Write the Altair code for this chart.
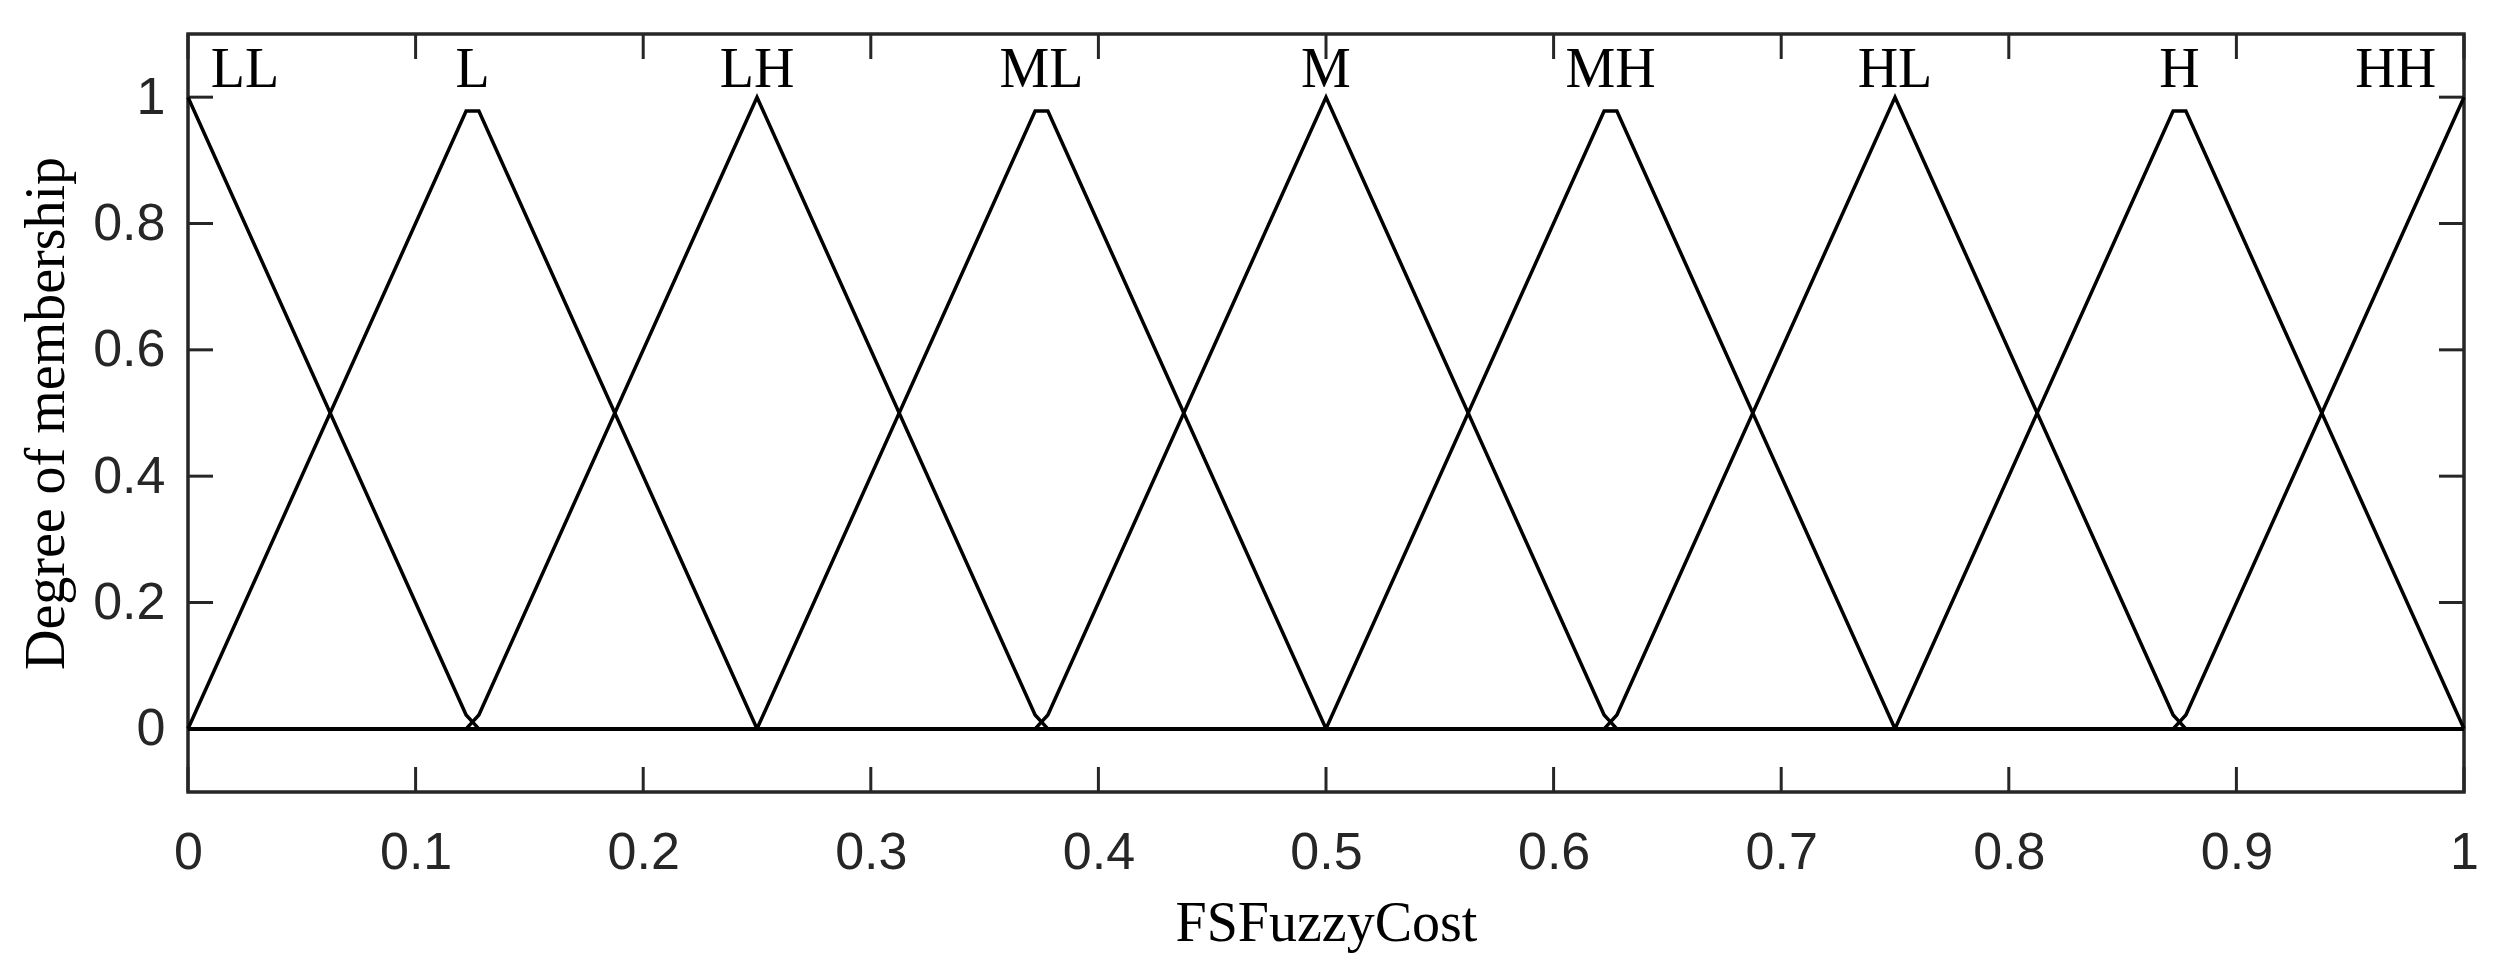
import altair as alt
import pandas as pd

# Breakpoints of the sampled membership functions (x) and each MF's value there
x_pts = [0, 0.1222, 0.1278, 0.25, 0.3722, 0.3778, 0.5, 0.6222, 0.6278, 0.75, 0.8722, 0.8778, 1]
LL = [1, 0.022, 0, 0, 0, 0, 0, 0, 0, 0, 0, 0, 0]
L  = [0, 0.978, 0.978, 0, 0, 0, 0, 0, 0, 0, 0, 0, 0]
LH = [0, 0, 0.022, 1, 0.022, 0, 0, 0, 0, 0, 0, 0, 0]
ML = [0, 0, 0, 0, 0.978, 0.978, 0, 0, 0, 0, 0, 0, 0]
M  = [0, 0, 0, 0, 0, 0.022, 1, 0.022, 0, 0, 0, 0, 0]
MH = [0, 0, 0, 0, 0, 0, 0, 0.978, 0.978, 0, 0, 0, 0]
HL = [0, 0, 0, 0, 0, 0, 0, 0, 0.022, 1, 0.022, 0, 0]
H  = [0, 0, 0, 0, 0, 0, 0, 0, 0, 0, 0.978, 0.978, 0]
HH = [0, 0, 0, 0, 0, 0, 0, 0, 0, 0, 0, 0.022, 1]

mf_names = ["LL", "L", "LH", "ML", "M", "MH", "HL", "H", "HH"]
mf_values = [LL, L, LH, ML, M, MH, HL, H, HH]
label_x = [0.025, 0.125, 0.25, 0.375, 0.5, 0.625, 0.75, 0.875, 0.970]
label_y = [1.016] * 9

x_ticks = [0, 0.1, 0.2, 0.3, 0.4, 0.5, 0.6, 0.7, 0.8, 0.9, 1]
y_ticks = [0, 0.2, 0.4, 0.6, 0.8, 1]

W, H_ = 2276, 758
AX = "#262626"
SERIF = "Liberation Serif"
SANS = "Liberation Sans"

rows = []
for name, vals in zip(mf_names, mf_values):
    for i, (xv, yv) in enumerate(zip(x_pts, vals)):
        rows.append({"mf": name, "x": xv, "y": yv, "order": i})
df = pd.DataFrame(rows)
lab_df = pd.DataFrame({"name": mf_names, "x": label_x, "y": label_y})
xt_df = pd.DataFrame({"t": x_ticks})
yt_df = pd.DataFrame({"t": y_ticks})

xscale = alt.Scale(domain=[0, 1], nice=False, zero=False)
yscale = alt.Scale(domain=[-0.1, 1.1], nice=False, zero=False)

xaxis = alt.Axis(values=x_ticks, format="~g", domain=False, ticks=False, grid=False,
                 labelFont=SANS, labelFontSize=52, labelColor=AX, labelBaseline="alphabetic",
                 labelPadding=76, labelFlush=False, labelOverlap=False, labelBound=False,
                 title="FSFuzzyCost", titleFont=SERIF, titleFontSize=56, titleFontWeight="normal",
                 titleColor="black", titleBaseline="alphabetic", titleY=148, titleX=W / 2,
                 titleAlign="center")
yaxis = alt.Axis(values=y_ticks, format="~g", domain=False, ticks=False, grid=False,
                 labelFont=SANS, labelFontSize=52, labelColor=AX, labelBaseline="middle",
                 labelPadding=23, labelFlush=False, labelOverlap=False, labelBound=False,
                 title="Degree of membership", titleFont=SERIF, titleFontSize=56,
                 titleFontWeight="normal", titleColor="black", titleBaseline="alphabetic",
                 titleAngle=270, titleX=-125, titleY=H_ / 2, titleAlign="center")

lines = alt.Chart(df).mark_line(color="black", strokeWidth=3.5).encode(
    x=alt.X("x:Q", scale=xscale, axis=xaxis),
    y=alt.Y("y:Q", scale=yscale, axis=yaxis),
    detail="mf:N",
    order="order:Q",
)

labels = alt.Chart(lab_df).mark_text(font=SERIF, fontSize=56, color="black",
                                      align="center", baseline="alphabetic").encode(
    x=alt.X("x:Q", scale=xscale),
    y=alt.Y("y:Q", scale=yscale),
    text="name:N",
)

tick_style = dict(color=AX, strokeWidth=3)
bt = alt.Chart(xt_df).mark_rule(**tick_style).encode(
    x=alt.X("t:Q", scale=xscale), y=alt.value(H_), y2=alt.value(H_ - 25))
tt = alt.Chart(xt_df).mark_rule(**tick_style).encode(
    x=alt.X("t:Q", scale=xscale), y=alt.value(0), y2=alt.value(25))
lt = alt.Chart(yt_df).mark_rule(**tick_style).encode(
    y=alt.Y("t:Q", scale=yscale), x=alt.value(0), x2=alt.value(25))
rt = alt.Chart(yt_df).mark_rule(**tick_style).encode(
    y=alt.Y("t:Q", scale=yscale), x=alt.value(W), x2=alt.value(W - 25))

chart = alt.layer(bt, tt, lt, rt, lines, labels).properties(
    width=W, height=H_,
    autosize=alt.AutoSizeParams(type="none"),
    padding={"left": 180, "top": 26, "right": 23, "bottom": 174},
    background="white",
).configure_view(stroke=AX, strokeWidth=3.5)

chart.save("out.html", embed_options={"renderer": "svg", "actions": False})
